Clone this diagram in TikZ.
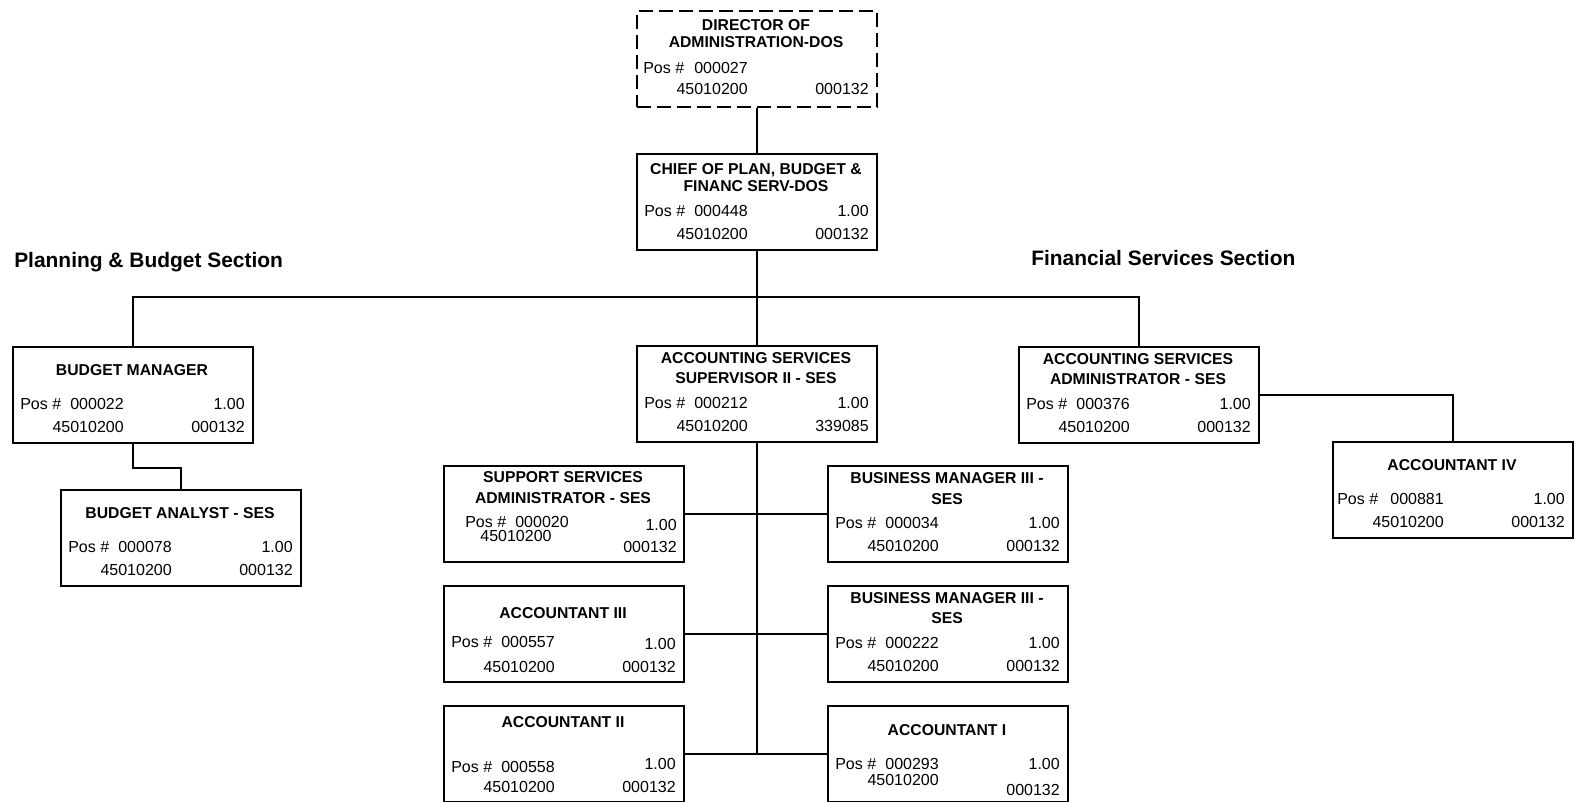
\documentclass[tikz,border=0pt]{standalone}
\usepackage{fontspec}
\setmainfont{Liberation Sans}

% Position data rows: name, left, top, position no., FTE, org code, class code
\newcommand\posrows[7]{%
  \node[txt, anchor=west] (#1-pos) at (#2+8,#3+58) {Pos \#};
  \node[txt, anchor=east] (#1-num) at (#2+112,#3+58) {#4};
  \node[txt, anchor=east] (#1-fte) at (#2+233,#3+58) {#5};
  \node[txt, anchor=east] (#1-org) at (#2+112,#3+81) {#6};
  \node[txt, anchor=east] (#1-cls) at (#2+233,#3+81) {#7};
}

\begin{document}
\begin{tikzpicture}[x=0.75pt,y=-0.75pt,
  orgbox/.style={draw, line width=1.5pt, minimum width=180pt, minimum height=72pt,
                 anchor=north west, inner sep=0pt},
  vacant/.style={dash pattern=on 10.5pt off 4.5pt},
  txt/.style={inner sep=0pt, font=\fontsize{12}{14}\selectfont, text height=8.6pt, text depth=0pt},
  ttl/.style={txt, font=\bfseries\fontsize{11.8}{14}\selectfont},
  sect/.style={inner sep=0pt, anchor=west, font=\bfseries\fontsize{15.7}{18}\selectfont,
               text height=11.2pt, text depth=0pt},
  link/.style={line width=1.5pt}]

\fill[white] (0,0) rectangle (1574,802);
\useasboundingbox (0,0) rectangle (1574,802);

% section headings
\node[sect] (plansec) at (14,260) {Planning \& Budget Section};
\node[sect] (finsec) at (1031,258) {Financial Services Section};

% director (vacant/outside unit)
\node[orgbox, vacant] (dir) at (636,10) {};
\node[ttl] (dir-t1) at (756,25) {DIRECTOR OF};
\node[ttl] (dir-t2) at (756,42) {ADMINISTRATION-DOS};
\node[txt, anchor=west] (dir-pos) at (643,68) {Pos \#};
\node[txt, anchor=east] (dir-num) at (748,68) {000027};
\node[txt, anchor=east] (dir-org) at (748,89) {45010200};
\node[txt, anchor=east] (dir-cls) at (869,89) {000132};

% chief
\node[orgbox] (chief) at (636,153) {};
\node[ttl] (chief-t1) at (756,169) {CHIEF OF PLAN, BUDGET \&};
\node[ttl] (chief-t2) at (756,186) {FINANC SERV-DOS};
\posrows{chief}{636}{153}{000448}{1.00}{45010200}{000132}

% planning & budget section
\node[orgbox] (bm) at (12,346) {};
\node[ttl] (bm-t) at (132,370) {BUDGET MANAGER};
\posrows{bm}{12}{346}{000022}{1.00}{45010200}{000132}

\node[orgbox] (ana) at (60,489) {};
\node[ttl] (ana-t) at (180,513) {BUDGET ANALYST - SES};
\posrows{ana}{60}{489}{000078}{1.00}{45010200}{000132}

% accounting supervisor
\node[orgbox] (sup) at (636,345) {};
\node[ttl] (sup-t1) at (756,358) {ACCOUNTING SERVICES};
\node[ttl] (sup-t2) at (756,378) {SUPERVISOR II - SES};
\posrows{sup}{636}{345}{000212}{1.00}{45010200}{339085}

% financial services section
\node[orgbox] (adm) at (1018,346) {};
\node[ttl] (adm-t1) at (1138,359) {ACCOUNTING SERVICES};
\node[ttl] (adm-t2) at (1138,379) {ADMINISTRATOR - SES};
\posrows{adm}{1018}{346}{000376}{1.00}{45010200}{000132}

\node[orgbox] (acc4) at (1332,441) {};
\node[ttl] (acc4-t) at (1452,465) {ACCOUNTANT IV};
\node[txt, anchor=west] (acc4-pos) at (1337,499) {Pos \#};
\node[txt, anchor=east] (acc4-num) at (1444,499) {000881};
\node[txt, anchor=east] (acc4-fte) at (1565,499) {1.00};
\node[txt, anchor=east] (acc4-org) at (1444,522) {45010200};
\node[txt, anchor=east] (acc4-cls) at (1565,522) {000132};

% staff under the supervisor, left column
\node[orgbox] (ssa) at (443,465) {};
\node[ttl] (ssa-t1) at (563,477) {SUPPORT SERVICES};
\node[ttl] (ssa-t2) at (563,498) {ADMINISTRATOR - SES};
\node[txt, anchor=west] (ssa-pos) at (465,522) {Pos \#};
\node[txt, anchor=east] (ssa-num) at (569,522) {000020};
\node[txt] (ssa-org) at (516,536) {45010200};
\node[txt, anchor=east] (ssa-fte) at (677,525) {1.00};
\node[txt, anchor=east] (ssa-cls) at (677,547) {000132};

\node[orgbox] (acc3) at (443,585) {};
\node[ttl] (acc3-t) at (563,613) {ACCOUNTANT III};
\node[txt, anchor=west] (acc3-pos) at (451,642) {Pos \#};
\node[txt, anchor=east] (acc3-num) at (555,642) {000557};
\node[txt, anchor=east] (acc3-fte) at (676,644) {1.00};
\node[txt, anchor=east] (acc3-org) at (555,667) {45010200};
\node[txt, anchor=east] (acc3-cls) at (676,667) {000132};

\node[orgbox] (acc2) at (443,705) {};
\node[ttl] (acc2-t) at (563,722) {ACCOUNTANT II};
\node[txt, anchor=west] (acc2-pos) at (451,767) {Pos \#};
\node[txt, anchor=east] (acc2-num) at (555,767) {000558};
\node[txt, anchor=east] (acc2-fte) at (676,764) {1.00};
\node[txt, anchor=east] (acc2-org) at (555,787) {45010200};
\node[txt, anchor=east] (acc2-cls) at (676,787) {000132};

% staff under the supervisor, right column
\node[orgbox] (bm1) at (827,465) {};
\node[ttl] (bm1-t1) at (947,478) {BUSINESS MANAGER III -};
\node[ttl] (bm1-t2) at (947,499) {SES};
\posrows{bm1}{827}{465}{000034}{1.00}{45010200}{000132}

\node[orgbox] (bm2) at (827,585) {};
\node[ttl] (bm2-t1) at (947,598) {BUSINESS MANAGER III -};
\node[ttl] (bm2-t2) at (947,618) {SES};
\posrows{bm2}{827}{585}{000222}{1.00}{45010200}{000132}

\node[orgbox] (acc1) at (827,705) {};
\node[ttl] (acc1-t) at (947,730) {ACCOUNTANT I};
\node[txt, anchor=west] (acc1-pos) at (835,764) {Pos \#};
\node[txt, anchor=east] (acc1-num) at (939,764) {000293};
\node[txt, anchor=east] (acc1-fte) at (1060,764) {1.00};
\node[txt, anchor=east] (acc1-org) at (939,780) {45010200};
\node[txt, anchor=east] (acc1-cls) at (1060,790) {000132};

% reporting lines
\coordinate (bus) at (756,297);
\draw[link] (dir.south) -- (chief.north);
\draw[link] (chief.south) -- (sup.north);
\draw[link] (bm.north) |- (bus) -| (adm.north);
\draw[link] (bm.south) -- ++(0,24) -| (ana.north);
\draw[link] (adm.east) -| (acc4.north);
\draw[link] (sup.south) -- (sup.south |- acc2.east);
\draw[link] (ssa.east) -- (bm1.west);
\draw[link] (acc3.east) -- (bm2.west);
\draw[link] (acc2.east) -- (acc1.west);
\end{tikzpicture}
\end{document}
